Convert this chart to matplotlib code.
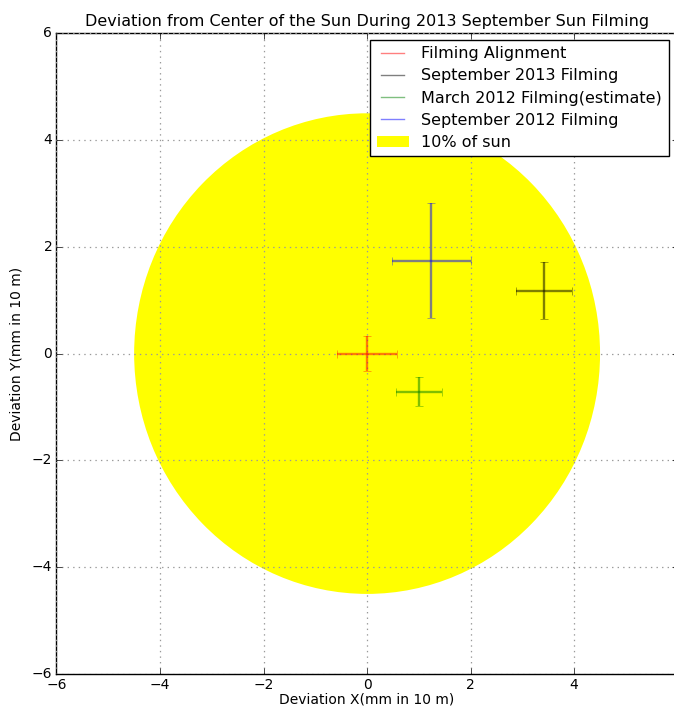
import matplotlib
matplotlib.use("Agg")
import matplotlib.pyplot as plt
from matplotlib.patches import Circle, Patch
from matplotlib.lines import Line2D

plt.style.use("classic")

# Measurements (mm deviation over 10 m)
series_names = ["Filming Alignment", "September 2013 Filming",
                "March 2012 Filming(estimate)", "September 2012 Filming"]
series_colors = ["r", "k", "g", "b"]
x_vals = [0.0, 3.42, 1.0, 1.24]
y_vals = [0.0, 1.18, -0.71, 1.74]
x_errs = [0.58, 0.54, 0.44, 0.76]
y_errs = [0.33, 0.54, 0.28, 1.08]

sun_radius = 4.5
sun_label = "10% of sun"
ticks = [-6, -4, -2, 0, 2, 4, 6]

fig = plt.figure(figsize=(6.74, 7.06), dpi=100)
fig.patch.set_facecolor("white")
ax = fig.add_axes([0.0838, 0.0453, 0.9217, 0.9077])

sun = Circle((0, 0), sun_radius, facecolor="yellow", edgecolor="none", zorder=1)
ax.add_patch(sun)

for c, x, y, xe, ye in zip(series_colors, x_vals, y_vals, x_errs, y_errs):
    ax.errorbar(x, y, xerr=xe, yerr=ye, fmt="none", ecolor=c, alpha=0.5,
                capsize=3, elinewidth=1.7, zorder=3)

ax.set_xlim(-6, 6)
ax.set_ylim(-6, 6)
ax.set_xticks(ticks)
ax.set_yticks(ticks)
ax.tick_params(labelsize=10, pad=3)
ax.grid(True, color="#999999", linestyle=":", linewidth=0.9)
ax.set_axisbelow(False)

ax.set_title("Deviation from Center of the Sun During 2013 September Sun Filming",
             fontsize=11.5)
ax.set_xlabel("Deviation X(mm in 10 m)", fontsize=10, labelpad=0)
ax.set_ylabel("Deviation Y(mm in 10 m)", fontsize=10, labelpad=6)

handles = [Line2D([], [], color=c, alpha=0.5, linewidth=1) for c in series_colors]
handles.append(Patch(facecolor="yellow", edgecolor="none"))
ax.legend(handles, series_names + [sun_label],
          loc="upper right", bbox_to_anchor=(0.993, 0.997), fontsize=11.5,
          handlelength=2, handletextpad=0.8, borderaxespad=0.3, labelspacing=0.45)

fig.savefig("out.png", dpi=100)
